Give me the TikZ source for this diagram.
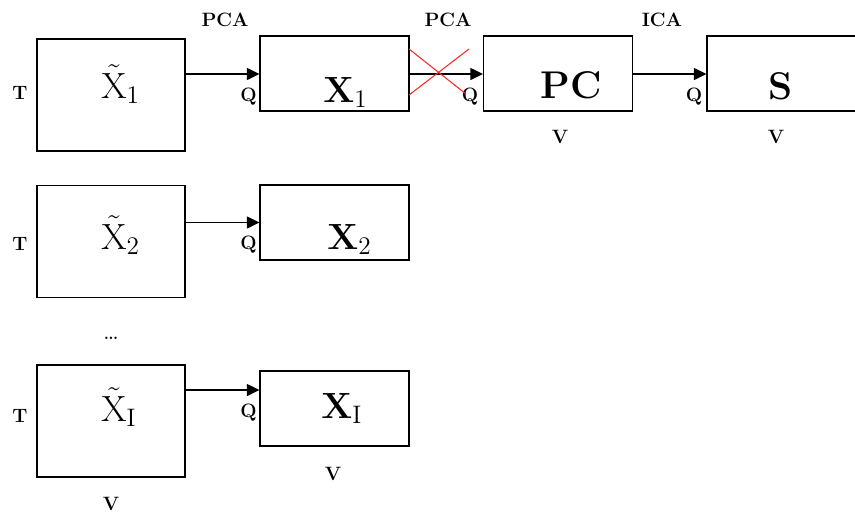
\documentclass[tikz,border=0pt]{standalone}
\usepackage{amsmath,amssymb}
\usepackage{tikz}
\usetikzlibrary{positioning, arrows.meta}
\tikzset{
  blk/.style={draw, line width=0.7pt, fill=white, inner sep=0pt},
  datablk/.style={blk, minimum width=2.96cm, minimum height=2.24cm},
  redblk/.style={blk, minimum width=2.98cm, minimum height=1.5cm},
  tag/.style={font=\fontsize{11}{13}\selectfont\bfseries, inner sep=0pt, anchor=base},
  bigtxt/.style={font=\fontsize{21}{24}\selectfont, inner sep=0pt, anchor=base west},
  hugetxt/.style={font=\fontsize{22}{26}\selectfont\bfseries, inner sep=0pt, anchor=base west},
  flow/.style={->, line width=0.7pt},
}
\begin{document}
\begin{tikzpicture}[x=0.02cm, y=-0.02cm, >={Triangle[length=0.25cm,width=0.24cm]}]
  \useasboundingbox (0,0) rectangle (855,514);
  % one row per data set
  \foreach \i/\yb/\ya/\ys/\yt/\yr/\xr in {
      1/95/74/73.5/98/102/323,
      2/241.5/222.5/222.5/249/249/327,
      I/421/390/408.5/421/418/321} {
    \node[datablk] (xt\i) at (111,\yb) {};
    \node[bigtxt] (lt\i) at (101,\yt) {$\tilde{\mathrm{X}}_{\mathrm{\i}}$};
    \node[tag] (t\i) at (20,\yt+1) {T};
    \node[redblk] (x\i) at (334.5,\ys) {};
    \node[bigtxt] (lx\i) at (\xr,\yr) {$\mathbf{X}_{\mathrm{\i}}$};
    \coordinate (a\i) at (0,\ya);
    \draw[flow] (xt\i.east |- a\i) -- (x\i.west |- a\i);
    \node[tag] (q\i) at (248.5,\ya+27) {Q};
  }
  \node[tag, font=\fontsize{14}{16}\selectfont] (dots) at (111,339) {\dots};
  \node[tag] (vt) at (111,510.5) {V};
  \node[tag] (vx) at (333,480.5) {V};

  % top row: PCA then ICA
  \node[redblk] (pc) at (558,73.5) {};
  \node[hugetxt] (lpc) at (540,98) {PC};
  \node[redblk, minimum width=3.0cm] (s) at (782,73.5) {};
  \node[hugetxt] (ls) at (768,99) {S};
  \draw[flow] (x1.east |- a1) -- (pc.west |- a1);
  \draw[flow] (pc.east |- a1) -- (s.west |- a1);
  \node[tag] (qpc) at (470,101) {Q};
  \node[tag] (qs) at (694,101) {Q};
  \node[tag] (vpc) at (560,143) {V};
  \node[tag] (vs) at (776,143) {V};
  \node[tag] (pca1) at (225,26) {PCA};
  \node[tag] (pca2) at (448,26) {PCA};
  \node[tag] (ica) at (662,26) {ICA};

  % crossed out step
  \draw[red!85, line width=0.6pt] (409,49) -- (466,94);
  \draw[red!85, line width=0.6pt] (409,95) -- (469,49);
\end{tikzpicture}
\end{document}
